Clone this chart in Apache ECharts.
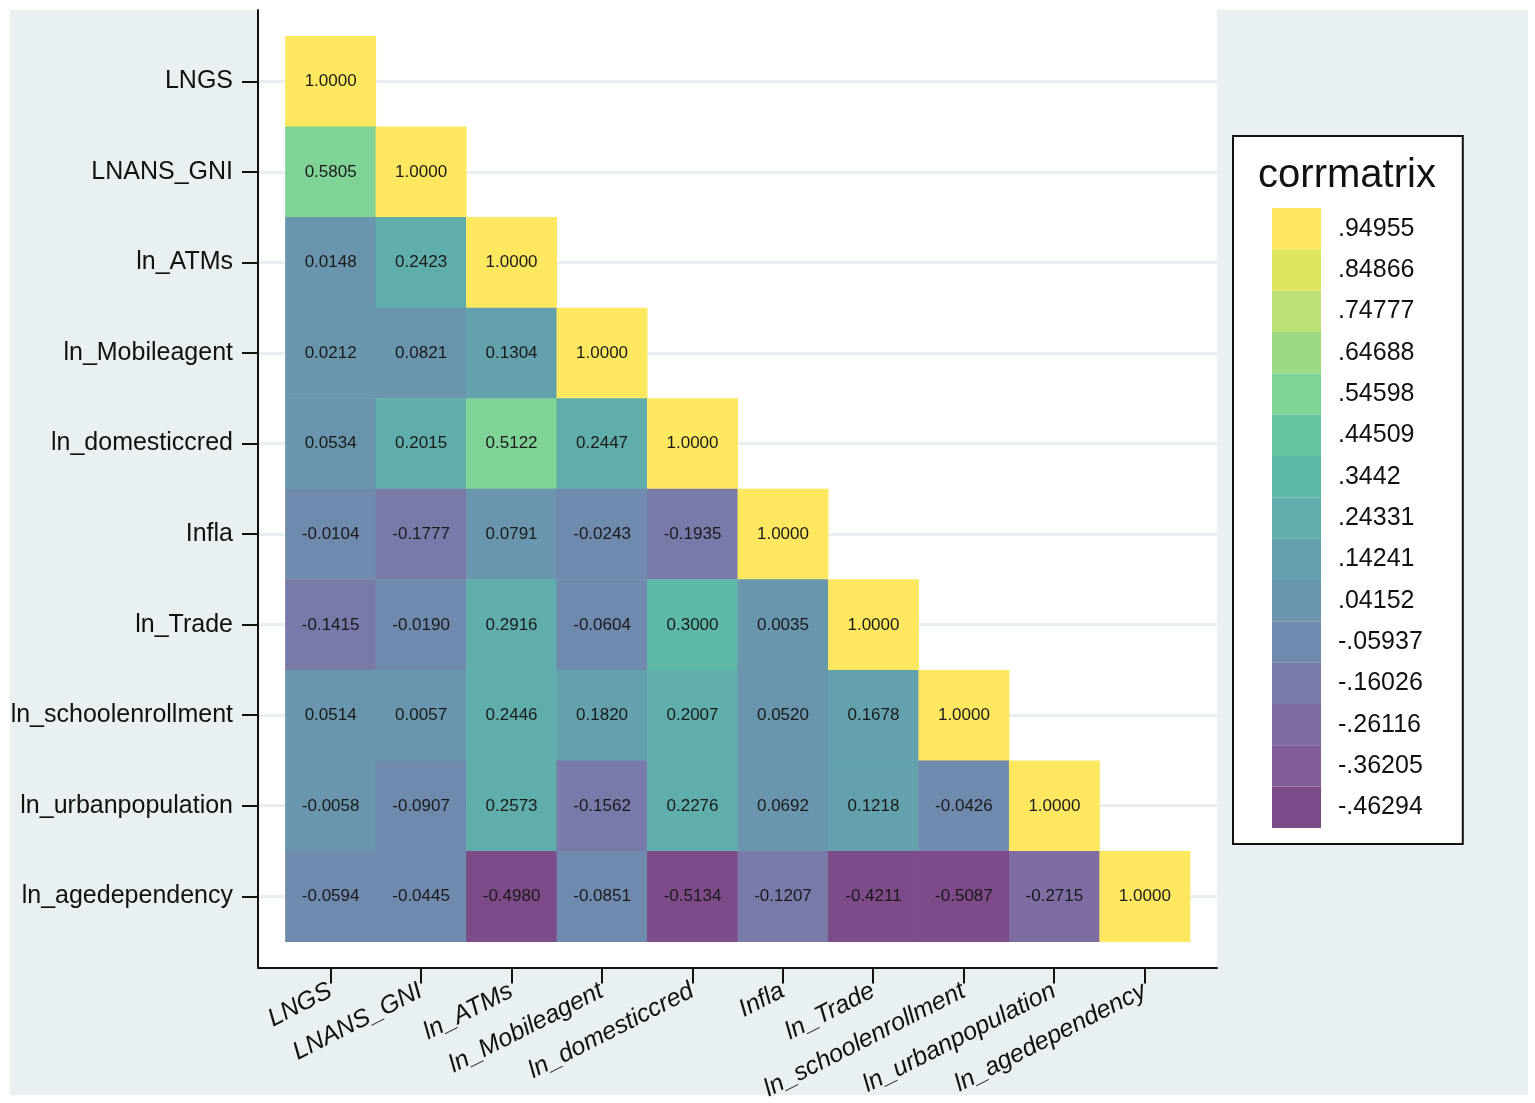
<!DOCTYPE html>
<html>
<head>
<meta charset="utf-8">
<script src="https://cdn.jsdelivr.net/npm/echarts@6/dist/echarts.min.js"></script>
<style>html,body{margin:0;padding:0;background:#fff}#chart{width:1535px;height:1103px}</style>
</head>
<body>
<div id="chart"></div>
<script>
// Variables (rows top to bottom, columns left to right)
const variables = ['LNGS', 'LNANS_GNI', 'ln_ATMs', 'ln_Mobileagent', 'ln_domesticcred', 'Infla', 'ln_Trade', 'ln_schoolenrollment', 'ln_urbanpopulation', 'ln_agedependency'];

// Lower-triangle correlation rows
const rowLNGS = [1.0000];
const rowLNANS_GNI = [0.5805, 1.0000];
const rowATMs = [0.0148, 0.2423, 1.0000];
const rowMobileagent = [0.0212, 0.0821, 0.1304, 1.0000];
const rowDomesticcred = [0.0534, 0.2015, 0.5122, 0.2447, 1.0000];
const rowInfla = [-0.0104, -0.1777, 0.0791, -0.0243, -0.1935, 1.0000];
const rowTrade = [-0.1415, -0.0190, 0.2916, -0.0604, 0.3000, 0.0035, 1.0000];
const rowSchool = [0.0514, 0.0057, 0.2446, 0.1820, 0.2007, 0.0520, 0.1678, 1.0000];
const rowUrban = [-0.0058, -0.0907, 0.2573, -0.1562, 0.2276, 0.0692, 0.1218, -0.0426, 1.0000];
const rowAgedep = [-0.0594, -0.0445, -0.4980, -0.0851, -0.5134, -0.1207, -0.4211, -0.5087, -0.2715, 1.0000];

// Legend (low to high)
const legendTitle = 'corrmatrix';
const legendLabels = ['-.46294', '-.36205', '-.26116', '-.16026', '-.05937', '.04152', '.14241', '.24331', '.3442', '.44509', '.54598', '.64688', '.74777', '.84866', '.94955'];
const legendColors = ['#7d4b87', '#805c96', '#7e6ca2', '#787baa', '#708aad', '#6996ac', '#63a2ac', '#60aeac', '#5fb9a8', '#66c6a0', '#7fd396', '#9cda82', '#bee276', '#dee65c', '#fde860'];

const rows = [rowLNGS, rowLNANS_GNI, rowATMs, rowMobileagent, rowDomesticcred, rowInfla, rowTrade, rowSchool, rowUrban, rowAgedep];
const cells = [];
rows.forEach((r, i) => r.forEach((v, j) => cells.push([j, i, v])));

const allVals = cells.map(c => c[2]);
const vMin = Math.min(...allVals), vMax = Math.max(...allVals);
const nBins = legendLabels.length;
const step = (vMax - vMin) / nBins;
const pieces = legendLabels.map((lab, k) => {
  const p = { label: lab, color: legendColors[k] };
  p.gte = k === 0 ? vMin - 1e-9 : vMin + k * step;
  if (k === nBins - 1) p.lte = vMax + 1e-9; else p.lt = vMin + (k + 1) * step;
  return p;
});

const FONT = '"Liberation Sans", Arial, sans-serif';
const idx = variables.map((_, i) => i);

const chart = echarts.init(document.getElementById('chart'), null, { renderer: 'canvas' });
chart.setOption({
  backgroundColor: '#ffffff',
  animation: false,
  graphic: [
    { type: 'rect', z: -100, silent: true, shape: { x: 10, y: 10, width: 1518, height: 1085 }, style: { fill: '#e8f0f2' } },
    { type: 'text', z: 100, silent: true, x: 1347, y: 176, style: { text: legendTitle, font: '40px ' + FONT, fill: '#111', textAlign: 'center', textVerticalAlign: 'middle' } }
  ],
  grid: { left: 258, top: 10, width: 959, height: 958, show: true, backgroundColor: '#ffffff', borderWidth: 0, containLabel: false },
  xAxis: {
    type: 'value', min: -0.8, max: 9.8,
    axisLine: { show: true, onZero: false, lineStyle: { color: '#111', width: 2 } },
    axisTick: { show: true, length: 16, customValues: idx, lineStyle: { color: '#111', width: 2 } },
    axisLabel: { customValues: idx, formatter: v => variables[Math.round(v)], rotate: 27, margin: 22, fontSize: 25, fontStyle: 'italic', color: '#111', fontFamily: FONT },
    splitLine: { show: false }
  },
  yAxis: {
    type: 'value', min: -0.787, max: 9.787, inverse: true,
    axisLine: { show: true, onZero: false, lineStyle: { color: '#111', width: 2 } },
    axisTick: { show: true, length: 16, customValues: idx, lineStyle: { color: '#111', width: 2 } },
    axisLabel: { customValues: idx, formatter: v => variables[Math.round(v)], margin: 25, fontSize: 25, color: '#111', fontFamily: FONT },
    splitLine: { show: true, lineStyle: { color: '#e9eff1', width: 3 } }
  },
  visualMap: {
    type: 'piecewise', dimension: 2, seriesIndex: 0,
    pieces: pieces,
    orient: 'vertical', left: 1232, top: 135,
    itemWidth: 49, itemHeight: 41.33, itemGap: 0, itemSymbol: 'rect',
    align: 'left', textGap: 17,
    padding: [72, 40, 16, 39],
    backgroundColor: '#ffffff', borderColor: '#111', borderWidth: 2,
    selectedMode: false, hoverLink: false,
    textStyle: { fontSize: 25, color: '#111', fontFamily: FONT }
  },
  series: [{
    type: 'custom',
    data: cells,
    encode: { x: 0, y: 1 },
    renderItem: (params, api) => {
      const c = api.coord([api.value(0), api.value(1)]);
      const s = api.size([1, 1]);
      return {
        type: 'rect',
        shape: { x: c[0] - s[0] / 2, y: c[1] - s[1] / 2, width: s[0] + 0.5, height: s[1] + 0.5 },
        style: { fill: api.visual('color') },
        textContent: { style: { text: api.value(2).toFixed(4), font: '17px ' + FONT, fill: '#1a1a1a' } },
        textConfig: { position: 'inside' }
      };
    }
  }]
});
</script>
</body>
</html>
